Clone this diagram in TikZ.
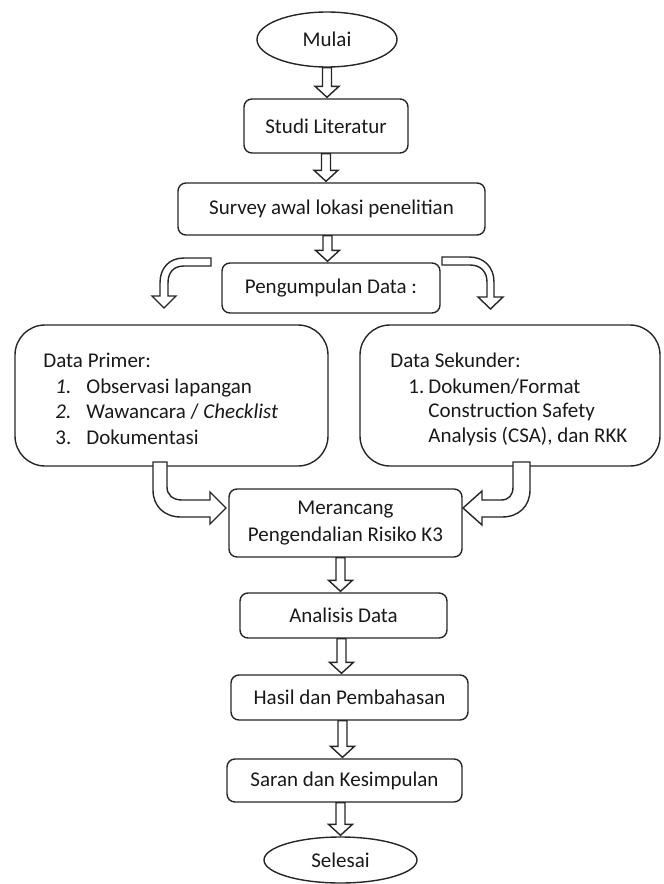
\documentclass[tikz,border=0pt]{standalone}
\usepackage{fontspec}
\setmainfont{Carlito}
\usetikzlibrary{calc,shapes.geometric}

% hollow block arrow from #2 down to #3, shifted sideways by #1
\newcommand{\blkarrow}[3][0]{%
  \draw[blk] ($(#2.south)+(#1-4.5,0)$) -- ($(#2.south |- #3.north)+(#1-4.5,-12)$)
    -- ++(-7.5,0) -- ($(#2.south |- #3.north)+(#1,-1)$)
    -- ($(#2.south |- #3.north)+(#1+12,-12)$) -- ++(-7.5,0)
    -- ($(#2.south)+(#1+4.5,0)$) -- cycle;}

\begin{document}
\begin{tikzpicture}[x=0.5pt, y=-0.5pt,
  every node/.style={font=\fontsize{10.5}{12.8}\selectfont, text=black!90},
  box/.style={draw=black!85, line width=0.7pt, rounded corners=4pt, inner sep=0pt},
  term/.style={draw=black!85, line width=0.7pt, ellipse, inner sep=0pt},
  bigbox/.style={draw=black!85, line width=0.7pt, rounded corners=15pt, inner sep=0pt},
  txt/.style={anchor=base west, inner sep=0pt},
  blk/.style={draw=black!85, line width=0.7pt, fill=white, line join=miter}]
  \useasboundingbox (0,0) rectangle (664,884);

  \node[term, minimum width=70pt, minimum height=27.5pt] (mulai) at (327,39.5) {Mulai};
  \node[box, minimum width=82pt, minimum height=27pt] (studi) at (326,126) {Studi Literatur};
  \node[box, minimum width=153.5pt, minimum height=26pt] (survey) at (331.5,209) {Survey awal lokasi penelitian};
  \node[box, minimum width=109pt, minimum height=25pt] (kumpul) at (331,288) {Pengumpulan Data :};

  \node[bigbox, minimum width=156.5pt, minimum height=70.5pt] (primer) at (171.5,395.5) {};
  \node[txt] (p0) at (43,367) {Data Primer:};
  \node[txt] (p1) at (55,393) {\makebox[15.5pt][l]{\textit{1.}}Observasi lapangan};
  \node[txt] (p2) at (55,418.5) {\makebox[15.5pt][l]{\textit{2.}}Wawancara / \textit{Checklist}};
  \node[txt] (p3) at (55,444) {\makebox[15.5pt][l]{3.}Dokumentasi};

  \node[bigbox, minimum width=150pt, minimum height=70.5pt] (sekunder) at (510,395.5) {};
  \node[txt] (s0) at (390,367) {Data Sekunder:};
  \node[txt] (s1) at (408,393) {\makebox[10pt][l]{1.}Dokumen/Format};
  \node[txt] (s2) at (428,417.5) {Construction Safety};
  \node[txt] (s3) at (428,442) {Analysis (CSA), dan RKK};

  \node[box, minimum width=116.5pt, minimum height=34pt, align=center] (rancang) at (345.5,523) {Merancang\\[0.7pt] Pengendalian Risiko K3};
  \node[box, minimum width=103.5pt, minimum height=22.5pt] (analisis) at (343.5,615.5) {Analisis Data};
  \node[box, minimum width=118.5pt, minimum height=22.5pt] (hasil) at (349.5,697.5) {Hasil dan Pembahasan};
  \node[box, minimum width=117.5pt, minimum height=21.5pt] (saran) at (344.5,780.5) {Saran dan Kesimpulan};
  \node[term, minimum width=76.5pt, minimum height=23pt] (selesai) at (340.5,860) {Selesai};

  \blkarrow{mulai}{studi}
  \blkarrow{studi}{survey}
  \blkarrow[-4]{survey}{kumpul}
  \blkarrow[-5]{rancang}{analisis}
  \blkarrow[-2]{analisis}{hasil}
  \blkarrow[-7]{hasil}{saran}
  \blkarrow[-4]{saran}{selesai}

  % bent arrows
  \draw[blk] (211,258) -- (184,258) .. controls (169,258) and (160,268) .. (160,283) -- (160,296)
    -- (152,296) -- (164,308) -- (176,296) -- (168,296) -- (168,283)
    .. controls (168,273) and (173,266) .. (184,266) -- (211,266) -- cycle;
  \draw[blk] (442,257) -- (469,257) .. controls (484,257) and (494,267) .. (494,282) -- (494,297)
    -- (503,297) -- (490.5,309) -- (478,297) -- (487,297) -- (487,282)
    .. controls (487,272) and (481,265) .. (470,265) -- (442,265) -- cycle;
  \draw[blk] (153,462) -- (153,490) .. controls (153,506) and (164,517) .. (181,517) -- (210,517)
    -- (210,524) -- (226,508) -- (210,492) -- (210,500) -- (182,500)
    .. controls (173,500) and (167,495) .. (167,487) -- (167,462) -- cycle;
  \draw[blk] (530,462) -- (530,490) .. controls (530,506) and (519,517) .. (502,517) -- (482,517)
    -- (482,525) -- (463,508) -- (482,491) -- (482,500) -- (501,500)
    .. controls (509,500) and (513,495) .. (513,487) -- (513,462) -- cycle;
\end{tikzpicture}
\end{document}
